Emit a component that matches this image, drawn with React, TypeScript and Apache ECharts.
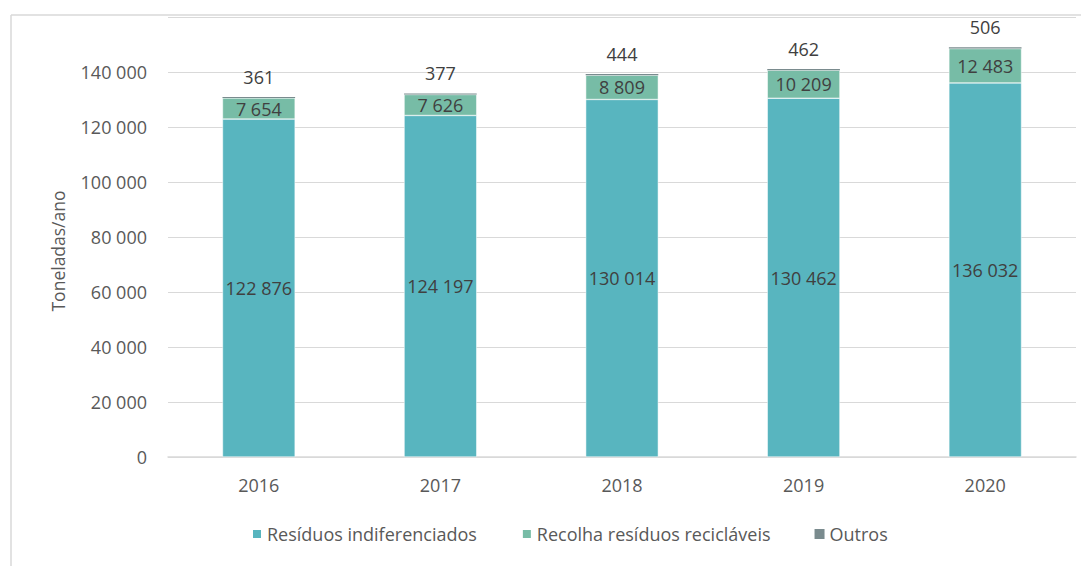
import React, { useEffect, useRef } from "react";
import * as echarts from "echarts";

const years = ["2016", "2017", "2018", "2019", "2020"];
const indiferenciados = [122876, 124197, 130014, 130462, 136032];
const reciclaveis = [7654, 7626, 8809, 10209, 12483];
const outros = [361, 377, 444, 462, 506];
const seriesNames = ["Resíduos indiferenciados", "Recolha resíduos recicláveis", "Outros"];
const yTicks = [0, 20000, 40000, 60000, 80000, 100000, 120000, 140000];

const fmt = (v: number) => {
  const s = String(Math.round(v));
  return s.replace(/\B(?=(\d{3})+(?!\d))/g, " ");
};

const FONT = "'Open Sans', sans-serif";

export default function App() {
  const ref = useRef<HTMLDivElement>(null);
  useEffect(() => {
    if (!ref.current) return;
    const chart = echarts.init(ref.current, undefined, { renderer: "svg" });
    const labelStyle = {
      show: true,
      fontFamily: FONT,
      fontSize: 18,
      color: "#404040",
      formatter: (p: any) => fmt(p.value),
    };
    chart.setOption({
      animation: false,
      backgroundColor: "#ffffff",
      textStyle: { fontFamily: FONT },
      grid: { left: 168, right: 15, top: 17, bottom: 109, containLabel: false },
      graphic: [
        {
          type: "line",
          shape: { x1: 11, y1: 15, x2: 1081, y2: 15 },
          style: { stroke: "#D9D9D9", lineWidth: 1.5 },
          silent: true,
        },
        {
          type: "line",
          shape: { x1: 11, y1: 15, x2: 11, y2: 566 },
          style: { stroke: "#D9D9D9", lineWidth: 1.5 },
          silent: true,
        },
        {
          type: "text",
          x: 58,
          y: 251,
          rotation: Math.PI / 2,
          style: {
            text: "Toneladas/ano",
            fontFamily: FONT,
            fontSize: 17.5,
            fill: "#595959",
            align: "center",
            verticalAlign: "middle",
          },
        },
      ],
      legend: {
        bottom: 18,
        left: 246,
        icon: "rect",
        itemWidth: 10,
        itemHeight: 10,
        itemGap: 44,
        textStyle: { fontFamily: FONT, fontSize: 18, color: "#595959" },
        data: seriesNames,
      },
      xAxis: {
        type: "category",
        data: years,
        axisLine: { show: true, lineStyle: { color: "#D9D9D9", width: 1.5 } },
        axisTick: { show: false },
        axisLabel: { fontFamily: FONT, fontSize: 18, color: "#595959", margin: 19 },
      },
      yAxis: {
        type: "value",
        min: 0,
        max: 160000,
        interval: 20000,
        axisLine: { show: false },
        axisTick: { show: false },
        splitLine: { lineStyle: { color: "#D9D9D9", width: 1 } },
        axisLabel: {
          fontFamily: FONT,
          fontSize: 18,
          color: "#595959",
          margin: 21,
          formatter: (v: number) => (yTicks.includes(v) ? fmt(v) : ""),
        },
      },
      series: [
        {
          name: seriesNames[0],
          type: "bar",
          stack: "total",
          barWidth: "40%",
          data: indiferenciados,
          itemStyle: { color: "#58B5BF", borderColor: "#ffffff", borderWidth: 0.5 },
          label: { ...labelStyle, position: "inside" },
        },
        {
          name: seriesNames[1],
          type: "bar",
          stack: "total",
          data: reciclaveis,
          itemStyle: { color: "#77BCA6", borderColor: "#ffffff", borderWidth: 0.5 },
          label: { ...labelStyle, position: "inside" },
        },
        {
          name: seriesNames[2],
          type: "bar",
          stack: "total",
          data: outros,
          itemStyle: { color: "#7A8B8E" },
          label: { ...labelStyle, position: "top", distance: 11 },
        },
      ],
    });
    return () => chart.dispose();
  }, []);
  return (
    <div
      ref={ref}
      style={{ position: "fixed", left: 0, top: 0, width: 1091, height: 566 }}
    />
  );
}
